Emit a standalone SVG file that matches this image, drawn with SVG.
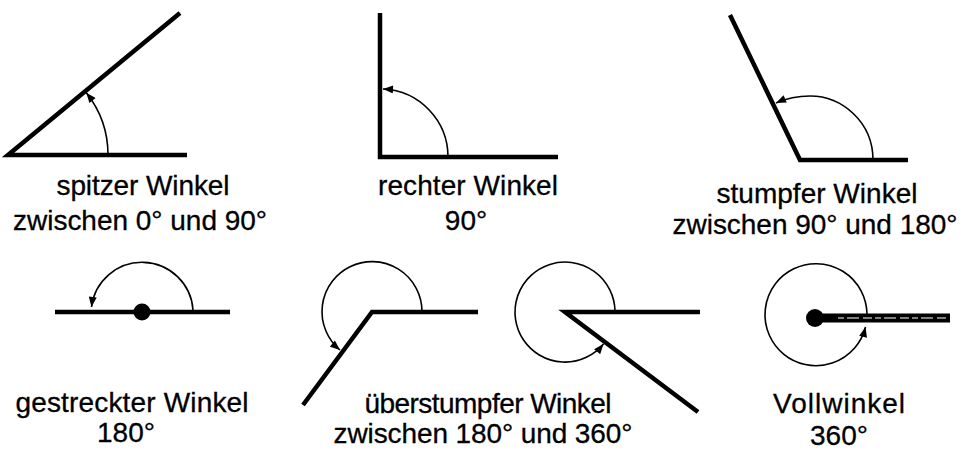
<svg xmlns="http://www.w3.org/2000/svg" width="962" height="450" viewBox="0 0 962 450">
<style>
.leg{fill:none;stroke:#000;stroke-width:4.5;stroke-linecap:butt;stroke-linejoin:miter}
.arc{fill:none;stroke:#000;stroke-width:1.6;marker-end:url(#ah)}
.dot{fill:#000}
text{font-family:"Liberation Sans",Arial,Helvetica,sans-serif;font-size:28px;fill:#000;stroke:#000;stroke-width:0.3;text-anchor:middle}
</style>
<defs>
<marker id="ah" viewBox="0 0 10 8" refX="10" refY="4" markerWidth="11" markerHeight="8" markerUnits="userSpaceOnUse" orient="auto">
<path d="M0,0 L10,4 L0,8 Z" fill="#000"/>
</marker>
</defs>
<g id="connectors">
<path class="arc" d="M108,155 A100,100 0 0 0 86.3,92.7"/>
<path class="arc" d="M448,157 A68,68 0 0 0 383,89"/>
<path class="arc" d="M873,160 C873,122 842,96 810,96 C797,96 785,99 776,103"/>
<path class="arc" d="M193,310 A51,51 0 0 0 91.5,307"/>
<path class="arc" d="M422,311 A50,50 0 1 0 340,350"/>
<path class="arc" d="M615,311 A50,50 0 1 0 603.5,344"/>
<path class="arc" d="M867,314 A51,51 0 1 0 865.5,327"/>
</g>
<g id="spitzer">
<path class="leg" d="M187,155 L8,155 L180,13"/>
<text x="143" y="195" textLength="173" lengthAdjust="spacing">spitzer Winkel</text>
<text x="140" y="230" textLength="254" lengthAdjust="spacing">zwischen 0° und 90°</text>
</g>
<g id="rechter">
<path class="leg" d="M380,13 L380,157 L558,157"/>
<text x="468" y="195" textLength="180" lengthAdjust="spacing">rechter Winkel</text>
<text x="466" y="230">90°</text>
</g>
<g id="stumpfer">
<path class="leg" d="M730,15 L800,160 L908,160"/>
<text x="817" y="203" textLength="201" lengthAdjust="spacing">stumpfer Winkel</text>
<text x="815" y="234" textLength="285" lengthAdjust="spacing">zwischen 90° und 180°</text>
</g>
<g id="gestreckter">
<path class="leg" d="M55,312 L230,312"/>
<circle class="dot" cx="142" cy="312" r="8.5"/>
<text x="132" y="412" textLength="233" lengthAdjust="spacing">gestreckter Winkel</text>
<text x="126" y="442">180°</text>
</g>
<g id="ueberstumpfer1">
<path class="leg" d="M303,405 L372,312 L478,312"/>
</g>
<g id="ueberstumpfer2">
<path class="leg" d="M700,312 L565,312 L698,412"/>
</g>
<g id="ueberstumpfer-label">
<text x="488" y="413" textLength="247" lengthAdjust="spacing">überstumpfer Winkel</text>
<text x="483" y="443" textLength="299" lengthAdjust="spacing">zwischen 180° und 360°</text>
</g>
<g id="vollwinkel">
<path d="M815,318 L950,318" fill="none" stroke="#000" stroke-width="9"/>
<path d="M838,318 L948,318" fill="none" stroke="#fff" stroke-width="1.1" stroke-dasharray="6 3 12 4 9 3"/>
<circle class="dot" cx="815" cy="318" r="9"/>
<text x="839" y="413" textLength="132" lengthAdjust="spacing">Vollwinkel</text>
<text x="839" y="445">360°</text>
</g>
</svg>
